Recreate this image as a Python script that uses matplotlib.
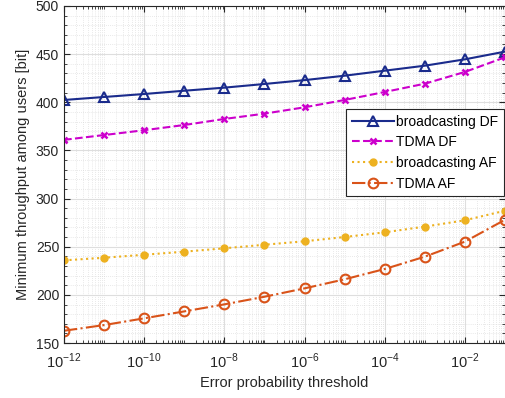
import matplotlib
matplotlib.use('Agg')
import matplotlib.pyplot as plt
from matplotlib.ticker import LogLocator, MultipleLocator, NullFormatter, FixedLocator
import numpy as np

plt.rcParams['font.family'] = ['Liberation Sans', 'DejaVu Sans']
plt.rcParams['mathtext.fontset'] = 'custom'
plt.rcParams['mathtext.rm'] = 'Liberation Sans'

# error probability thresholds (exponents)
exponents = [-12, -11, -10, -9, -8, -7, -6, -5, -4, -3, -2, -1]
bc_df = [402.4, 405.5, 408.6, 412.0, 415.2, 419.0, 423.0, 427.6, 432.8, 438.0, 444.6, 452.6]
tdma_df = [361.0, 366.0, 371.0, 376.4, 382.7, 388.2, 394.8, 402.4, 410.7, 419.3, 431.5, 446.7]
bc_af = [235.9, 238.6, 241.7, 244.9, 248.4, 252.1, 255.7, 260.1, 265.0, 270.9, 277.5, 287.4]
tdma_af = [162.8, 168.7, 175.7, 182.9, 190.2, 198.1, 206.8, 216.2, 226.9, 239.7, 255.3, 278.0]

x = 10.0 ** np.array(exponents)

fig = plt.figure(figsize=(5.06, 3.98), dpi=100)
ax = fig.add_axes([0.1265, 0.138, 0.8715, 0.847])

ax.plot(x, bc_df, '-', color='#1a2b8c', lw=1.5, marker='^', ms=7, mfc='none', mew=1.5,
        label='broadcasting DF')
ax.plot(x, tdma_df, '--', color='#cc00cc', lw=1.5, marker='x', ms=5, mew=1.8,
        label='TDMA DF')
ax.plot(x, bc_af, ':', color='#edb120', lw=1.5, marker='o', ms=5, mfc='#edb120', mew=1,
        label='broadcasting AF')
ax.plot(x, tdma_af, '-.', color='#d95319', lw=1.5, marker='o', ms=7, mfc='none', mew=1.5,
        label='TDMA AF')

ax.set_xscale('log')
ax.set_xlim(1e-12, 1e-1)
ax.set_ylim(150, 500)
ax.xaxis.set_major_locator(FixedLocator([10.0 ** e for e in range(-12, -1, 2)]))
ax.xaxis.set_minor_locator(LogLocator(base=10, subs=np.arange(1, 10), numticks=100))
ax.xaxis.set_minor_formatter(NullFormatter())
ax.set_xticklabels([r'$10^{%d}$' % e for e in range(-12, -1, 2)])
ax.yaxis.set_major_locator(MultipleLocator(50))
ax.yaxis.set_minor_locator(MultipleLocator(10))

ax.grid(which='major', color='#dedede', lw=0.8, ls='-')
ax.grid(which='minor', color='#d4d4d4', lw=0.5, ls=(0, (1, 2)))
ax.set_axisbelow(True)

ax.tick_params(which='both', direction='in', top=True, right=True, colors='#262626',
               labelsize=10)
ax.tick_params(axis='x', which='major', labelsize=10.5, pad=6)
ax.tick_params(which='major', length=4)
ax.tick_params(which='minor', length=2)
for s in ax.spines.values():
    s.set_color('#262626')
    s.set_linewidth(0.8)

ax.set_xlabel('Error probability threshold', fontsize=10.5, color='#262626', labelpad=4)
ax.set_ylabel('Minimum throughput among users [bit]', fontsize=10.5, color='#262626')

leg = ax.legend(loc='upper right', bbox_to_anchor=(0.998, 0.694), fontsize=10,
                fancybox=False, edgecolor='#262626', framealpha=1, borderpad=0.4,
                labelspacing=0.48, handlelength=3.0, handletextpad=0.2, borderaxespad=0)
leg.get_frame().set_linewidth(0.8)

fig.savefig('out.png', dpi=100)
